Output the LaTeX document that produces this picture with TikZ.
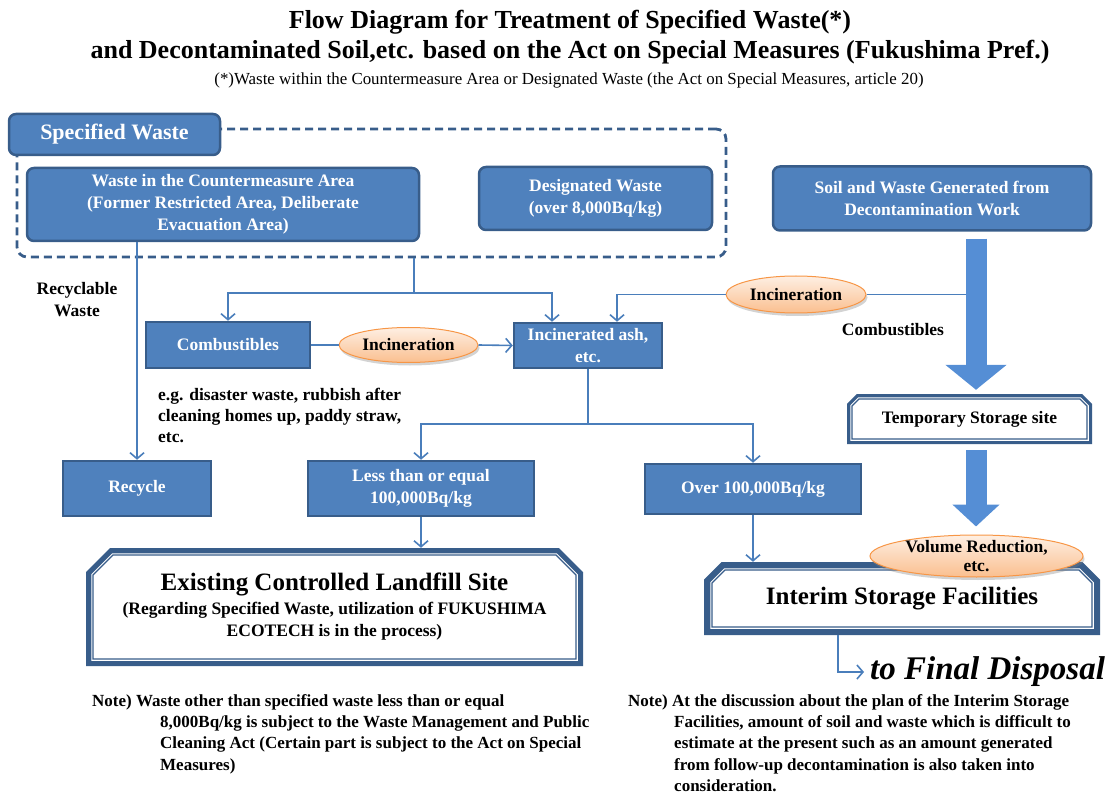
\documentclass[tikz,border=0pt]{standalone}
\usepackage{fontspec}
\setmainfont{Liberation Serif}
\usetikzlibrary{shapes.geometric}
\usetikzlibrary{arrows.meta}
\usetikzlibrary{shadows}

\definecolor{boxblue}{HTML}{4F81BD}
\definecolor{boxedge}{HTML}{385D8A}
\definecolor{linkblue}{HTML}{4A7EBB}
\definecolor{bigblue}{HTML}{558ED5}
\definecolor{ovaledge}{HTML}{F79646}
\definecolor{ovaltop}{HTML}{FEEFE3}
\definecolor{ovalbot}{HTML}{FABF8F}

\newcommand{\boxfont}{\bfseries\fontsize{17.5}{22}\selectfont}

\begin{document}
\begin{tikzpicture}[x=1pt, y=-1pt,
  wastebox/.style={draw=boxedge, fill=boxblue, line width=2.5pt, text=white, font=\boxfont, align=center, inner sep=0pt},
  roundwaste/.style={wastebox, rounded corners=7pt},
  group/.style={draw=boxedge, line width=2.8pt, dash pattern=on 8pt off 5pt, rounded corners=10pt},
  burn/.style={ellipse, draw=ovaledge, line width=1pt, top color=ovaltop, bottom color=ovalbot, inner sep=0pt, font=\boxfont,
    drop shadow={shadow xshift=1.5pt, shadow yshift=-3pt, opacity=0.35}},
  site/.style={preaction={draw=boxedge, line width=#1}, preaction={draw=white, line width=3.5pt}, fill=white, draw=boxedge, line width=1.2pt},
  sitetext/.style={inner sep=0pt, align=center, font=\boxfont},
  flow/.style={draw=linkblue, line width=1.6pt, -{Straight Barb[length=6pt, width=14pt]}},
  link/.style={draw=linkblue, line width=1.6pt},
  bigflow/.style 2 args={draw=bigblue, line width=21pt, -{Triangle[width=#1, length=#2]}},
  note/.style={font=\bfseries\fontsize{17}{21.3}\selectfont, align=left, inner sep=0pt},
]
  \useasboundingbox (0,0) rectangle (1106,794);

  % title
  \node[align=center, font=\bfseries\fontsize{26}{30}\selectfont] (title) at (570,37)
    {Flow Diagram for Treatment of Specified Waste(*)\\
     and Decontaminated Soil,etc. based on the Act on Special Measures (Fukushima Pref.)};
  \node[font=\fontsize{16.9}{19}\selectfont] (subtitle) at (569,80)
    {(*)Waste within the Countermeasure Area or Designated Waste (the Act on Special Measures, article 20)};

  % specified waste group
  \node[group, minimum width=709pt, minimum height=128pt] (swgroup) at (371.5,193) {};
  \node[roundwaste, minimum width=211pt, minimum height=41pt, font=\bfseries\fontsize{22}{26}\selectfont] (spec) at (114.5,134.5) {Specified Waste};
  \node[roundwaste, minimum width=392pt, minimum height=73pt] (waste) at (223,204.5)
    {Waste in the Countermeasure Area\\(Former Restricted Area, Deliberate\\Evacuation Area)};
  \node[roundwaste, minimum width=233pt, minimum height=63pt] (desig) at (595.5,198.5)
    {Designated Waste\\(over 8,000Bq/kg)};
  \node[roundwaste, minimum width=318pt, minimum height=64pt] (soil) at (932,198.5)
    {Soil and Waste Generated from\\Decontamination Work};

  % middle row
  \node[wastebox, minimum width=164pt, minimum height=46pt] (comb) at (228,345) {Combustibles};
  \node[burn, minimum width=139pt, minimum height=35pt] (burna) at (408.5,345) {Incineration};
  \node[wastebox, minimum width=148pt, minimum height=45pt] (ash) at (588,345.5) {Incinerated ash,\\etc.};
  \node[burn, minimum width=140pt, minimum height=37pt] (burnb) at (796,294.5) {Incineration};

  % lower row
  \node[wastebox, minimum width=148pt, minimum height=55pt] (recycle) at (137,488.5) {Recycle};
  \node[wastebox, minimum width=226pt, minimum height=55pt] (less) at (421,488.5) {Less than or equal\\100,000Bq/kg};
  \node[wastebox, minimum width=216pt, minimum height=50pt] (over) at (753,489) {Over 100,000Bq/kg};

  % sites with bevelled tops
  \path[site=10pt] (852,406) -- (859,399) -- (1080,399) -- (1087,406) -- (1087,439) -- (852,439) -- cycle;
  \node[sitetext, minimum width=235pt, minimum height=40pt] (temp) at (969.5,419) {Temporary Storage site};
  \path[site=14pt] (93,575) -- (113,555) -- (556,555) -- (576,575) -- (576,659) -- (93,659) -- cycle;
  \node[sitetext, minimum width=483pt, minimum height=104pt] (land) at (334.5,607)
    {{\fontsize{25}{30}\selectfont Existing Controlled Landfill Site}\\[2pt]
     \fontsize{17.5}{20}\selectfont (Regarding Specified Waste, utilization of FUKUSHIMA\\ECOTECH is in the process)};
  \path[site=16pt] (712,583) -- (725,570) -- (1079,570) -- (1092,583) -- (1092,627) -- (712,627) -- cycle;
  \node[sitetext, minimum width=380pt, minimum height=57pt, font=\bfseries\fontsize{25}{30}\selectfont] (interim) at (902,598.5) {Interim Storage Facilities};

  % labels
  \node[note, align=center, font=\boxfont] (recyc) at (77,300) {Recyclable\\Waste};
  \node[note, font=\boxfont] (combl) at (893,330) {Combustibles};
  \node[note, anchor=north west, font=\bfseries\fontsize{17.5}{21}\selectfont] (eg) at (158,388)
    {e.g. disaster waste, rubbish after\\cleaning homes up, paddy straw,\\etc.};
  \node[anchor=west, inner sep=0pt, font=\bfseries\itshape\fontsize{33}{36}\selectfont] (final) at (870,672) {to Final Disposal};

  % connectors
  \coordinate (split) at (414,293);
  \coordinate (fork) at (588,424);
  \coordinate (shaft) at (976,0);
  \coordinate (exit) at (838,0);
  \draw[flow] (waste.south -| recycle.north) -- (recycle.north);
  \draw[link] (swgroup.south -| split) -- (split);
  \draw[flow] (split) -| (comb.north);
  \draw[flow] (split) -| ([xshift=-36pt]ash.north);
  \draw[link] (comb.east) -- (burna.west);
  \draw[flow] (burna.east) -- (ash.west);
  \draw[link] (burnb.east) -- (burnb.east -| shaft);
  \draw[flow] (burnb.west) -| ([xshift=29pt]ash.north);
  \draw[link] (ash.south) -- (fork);
  \draw[flow] (fork) -| (less.north);
  \draw[flow] (fork) -| (over.north);
  \draw[flow] (less.south) -- ([yshift=7pt]less.south |- land.north);
  \draw[flow] (over.south) -- ([yshift=8pt]over.south |- interim.north);
  \draw[flow] ([yshift=-8pt]interim.south -| exit) |- ([xshift=-6pt]final.west);

  % thick arrows on the right
  \draw[bigflow={60pt}{25pt}] ([yshift=-7pt]soil.south -| shaft) -- ([yshift=9pt]temp.north -| shaft);
  \node[burn, minimum width=213pt, minimum height=42pt] (vol) at (976.5,556) {};
  \draw[bigflow={46pt}{22pt}] ([yshift=-11pt]temp.south -| shaft) -- ([yshift=8pt]vol.north -| shaft);
  \node[align=center, inner sep=0pt, font=\bfseries\fontsize{17.5}{19}\selectfont] (voltext) at (vol) {Volume Reduction,\\etc.};

  % notes
  \node[note, anchor=north west] (notel) at (92,694)
    {Note) Waste other than specified waste less than or equal\\
     \hspace*{68pt}8,000Bq/kg is subject to the Waste Management and Public\\
     \hspace*{68pt}Cleaning Act (Certain part is subject to the Act on Special\\
     \hspace*{68pt}Measures)};
  \node[note, anchor=north west] (noter) at (628,694)
    {Note) At the discussion about the plan of the Interim Storage\\
     \hspace*{46pt}Facilities, amount of soil and waste which is difficult to\\
     \hspace*{46pt}estimate at the present such as an amount generated\\
     \hspace*{46pt}from follow-up decontamination is also taken into\\
     \hspace*{46pt}consideration.};
\end{tikzpicture}
\end{document}
